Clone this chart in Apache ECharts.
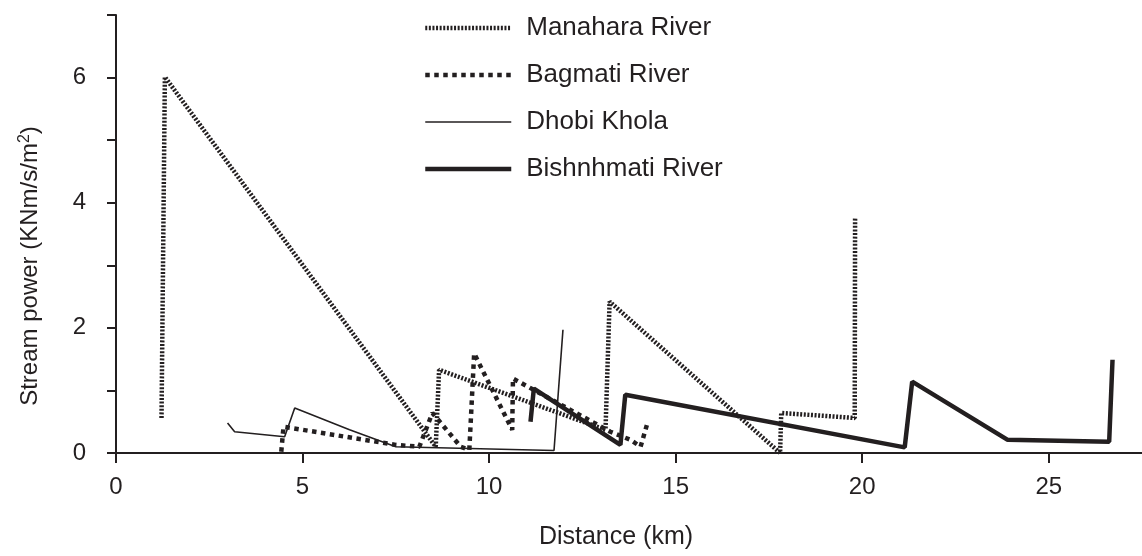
<!DOCTYPE html>
<html>
<head>
<meta charset="utf-8">
<script src="https://cdn.jsdelivr.net/npm/echarts@6/dist/echarts.min.js"></script>
<style>
html,body{margin:0;padding:0;background:#fff;}
#chart{width:1142px;height:556px;}
</style>
</head>
<body>
<div id="chart"></div>
<script>
// ---- Data (distance in km, stream power in KNm/s/m2) ----
var seriesNames = ['Manahara River', 'Bagmati River', 'Dhobi Khola', 'Bishnhmati River'];

var manaharaX = [1.22, 1.31, 8.57, 8.66, 13.12, 13.23, 17.80, 17.83, 19.80, 19.81];
var manaharaY = [0.56, 6.01, 0.10, 1.33, 0.37, 2.42, 0.00, 0.64, 0.56, 3.76];

var bagmatiX = [4.43, 4.49, 7.50, 8.13, 8.48, 9.24, 9.47, 9.60, 10.62, 10.64, 13.25, 13.79, 14.06, 14.23];
var bagmatiY = [0.02, 0.42, 0.13, 0.10, 0.64, 0.10, 0.05, 1.59, 0.37, 1.19, 0.34, 0.21, 0.10, 0.45];

var dhobiX = [2.99, 3.18, 4.52, 4.79, 6.26, 7.50, 11.74, 11.98];
var dhobiY = [0.48, 0.34, 0.26, 0.72, 0.37, 0.10, 0.04, 1.97];

var bishnumatiX = [11.11, 11.20, 13.52, 13.65, 21.14, 21.34, 23.90, 26.62, 26.71];
var bishnumatiY = [0.50, 1.03, 0.13, 0.93, 0.09, 1.14, 0.21, 0.18, 1.49];

var xTicks = [0, 5, 10, 15, 20, 25];
var yTicks = [0, 1, 2, 3, 4, 5, 6, 7];
var yTickLabels = [0, 2, 4, 6];

function zip(xs, ys) { return xs.map(function (x, i) { return [x, ys[i]]; }); }

var ink = '#231f20';
var font = '"Liberation Sans", Arial, sans-serif';

var styles = [
  { color: ink, width: 4.5, type: [2, 1.6], cap: 'butt' },
  { color: ink, width: 4.5, type: [4.5, 4.5], cap: 'butt' },
  { color: ink, width: 1.6, type: 'solid' },
  { color: ink, width: 4.5, type: 'solid' }
];

var chart = echarts.init(document.getElementById('chart'));
chart.setOption({
  animation: false,
  backgroundColor: '#fff',
  grid: { left: 116, right: 0, top: 15, bottom: 103, containLabel: false },
  legend: {
    orient: 'vertical',
    left: 418,
    top: 10,
    itemWidth: 86,
    itemHeight: 14,
    itemGap: 21,
    itemStyle: { opacity: 0 },
    textStyle: { fontSize: 26, color: ink, fontFamily: font, padding: [0, 0, 0, 10] },
    data: seriesNames.map(function (n, i) {
      return { name: n, lineStyle: styles[i], itemStyle: { opacity: 0 } };
    })
  },
  xAxis: {
    type: 'value',
    min: 0,
    max: 27.5,
    interval: 5,
    axisLine: { lineStyle: { color: ink, width: 2 } },
    axisTick: { length: 10, customValues: xTicks, lineStyle: { color: ink, width: 2 } },
    axisLabel: {
      color: ink, fontSize: 24, fontFamily: font, margin: 22,
      customValues: xTicks,
      formatter: function (v) { return xTicks.indexOf(v) >= 0 ? String(v) : ''; }
    },
    splitLine: { show: false }
  },
  yAxis: {
    type: 'value',
    min: 0,
    max: 7,
    interval: 1,
    axisLine: { show: true, lineStyle: { color: ink, width: 2 } },
    axisTick: { show: true, length: 9, customValues: yTicks, lineStyle: { color: ink, width: 2 } },
    axisLabel: {
      color: ink, fontSize: 24, fontFamily: font, margin: 30,
      customValues: yTickLabels,
      formatter: function (v) { return yTickLabels.indexOf(v) >= 0 ? String(v) : ''; }
    },
    splitLine: { show: false }
  },
  graphic: [
    {
      type: 'text',
      x: 616, y: 537,
      style: {
        text: 'Distance (km)', fill: ink, fontSize: 25, fontFamily: font,
        align: 'center', verticalAlign: 'middle'
      }
    },
    {
      type: 'text',
      x: 30, y: 266,
      rotation: Math.PI / 2,
      style: {
        text: '{a|Stream power (KNm/s/m}{s|2}{a|)}',
        align: 'center', verticalAlign: 'middle',
        rich: {
          a: { fontSize: 24, fill: ink, fontFamily: font },
          s: { fontSize: 16, fill: ink, fontFamily: font, verticalAlign: 'top', padding: [0, 0, 10, 0] }
        }
      }
    }
  ],
  series: seriesNames.map(function (n, i) {
    var xs = [manaharaX, bagmatiX, dhobiX, bishnumatiX][i];
    var ys = [manaharaY, bagmatiY, dhobiY, bishnumatiY][i];
    return {
      name: n, type: 'line', symbol: 'none', symbolSize: 0,
      data: zip(xs, ys),
      lineStyle: styles[i],
      itemStyle: { color: ink }
    };
  })
});
</script>
</body>
</html>
